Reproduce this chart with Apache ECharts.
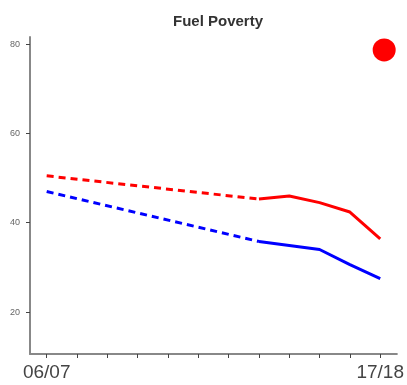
<!DOCTYPE html>
<html><head><meta charset="utf-8">
<script src="https://cdn.jsdelivr.net/npm/echarts@6/dist/echarts.min.js"></script>
<style>html,body{margin:0;padding:0;background:#fff}#c{width:407px;height:385px}</style>
</head><body><div id="c"></div>
<script>
var categories = ['06/07','07/08','08/09','09/10','10/11','11/12','12/13','13/14','14/15','15/16','16/17','17/18'];
var yTicks = [20, 40, 60, 80];
// dashed trend sections (start / end of projection)
var redDashed = [[0, 50.5], [7, 45.3]];
var blueDashed = [[0, 47.0], [7, 35.8]];
// solid sections 13/14 .. 17/18
var solidIdx = [7, 8, 9, 10, 11];
var redSolid = [45.3, 46.0, 44.5, 42.4, 36.4];
var blueSolid = [35.8, 34.9, 34.0, 30.6, 27.5];
var marker = [[11.13, 78.7]];

function pairs(idx, vals){ return idx.map(function(i,k){return [i, vals[k]];}); }

var chart = echarts.init(document.getElementById('c'), null, {renderer:'canvas'});
chart.setOption({
  animation:false,
  title:{text:'Fuel Poverty', left:168, top:9, textStyle:{fontFamily:'Liberation Sans', fontSize:15, fontWeight:'bold', color:'#333'}},
  grid:{left:30, right:9, top:37, bottom:31},
  xAxis:{type:'value', min:-0.55, max:11.55, interval:1,
    splitLine:{show:false},
    axisLine:{onZero:false, lineStyle:{color:'#888', width:2}},
    axisTick:{customValues:categories.map(function(c,i){return i;}), length:4, lineStyle:{color:'#444', width:1}},
    axisLabel:{customValues:[0,11], formatter:function(v){return categories[Math.round(v)];}, fontFamily:'Liberation Sans', fontSize:19, color:'#444', margin:9}
  },
  yAxis:{type:'value', min:10.6, max:81.6,
    splitLine:{show:false},
    axisLine:{show:true, onZero:false, lineStyle:{color:'#888', width:2}},
    axisTick:{show:true, customValues:yTicks, length:4, lineStyle:{color:'#444'}},
    axisLabel:{customValues:yTicks, fontFamily:'Liberation Sans', fontSize:9, color:'#666', margin:10}
  },
  series:[
    {type:'line', data:redDashed, symbol:'none', lineStyle:{color:'#ff0000', width:3, type:[7,5]}},
    {type:'line', data:blueDashed, symbol:'none', lineStyle:{color:'#0000ff', width:3, type:[7,5]}},
    {type:'line', data:pairs(solidIdx, redSolid), symbol:'none', lineStyle:{color:'#ff0000', width:3}},
    {type:'line', data:pairs(solidIdx, blueSolid), symbol:'none', lineStyle:{color:'#0000ff', width:3}},
    {type:'scatter', data:marker, symbol:'circle', symbolSize:23, itemStyle:{color:'#ff0000', opacity:1}}
  ]
});
</script></body></html>
